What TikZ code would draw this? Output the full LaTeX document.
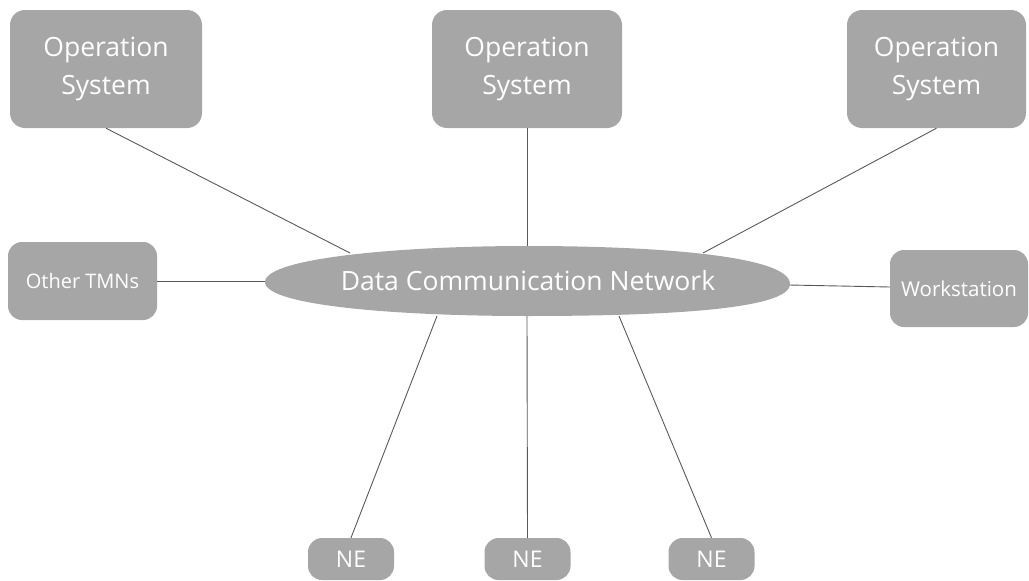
\documentclass[tikz,border=0pt]{standalone}
\usepackage{fontspec}
\setmainfont{Open Sans}
\definecolor{boxgrey}{HTML}{A6A6A6}
\definecolor{linegrey}{HTML}{595959}
\tikzset{
  unit/.style={x=1pt,y=-1pt},
  greybox/.style={draw=none,fill=boxgrey,rounded corners=15pt,text=white,
    inner sep=0pt,align=center},
  osbox/.style={greybox,minimum height=118pt,font=\fontsize{26.5}{38}\selectfont},
  nebox/.style={greybox,minimum width=86pt,minimum height=42pt,rounded corners=14pt,
    font=\fontsize{23}{28}\selectfont},
  link/.style={draw=linegrey,line width=0.9pt}
}
\begin{document}
\begin{tikzpicture}[unit]
\useasboundingbox (0,0) rectangle (1029,581);

% management systems along the top
\node[osbox,minimum width=192pt] (osL) at (106,69) {Operation\\System};
\node[osbox,minimum width=190pt] (osM) at (527,69) {Operation\\System};
\node[osbox,minimum width=179pt] (osR) at (936.5,69) {Operation\\System};

% side boxes
\node[greybox,minimum width=149pt,minimum height=78pt,rounded corners=14pt,
      font=\fontsize{20}{24}\selectfont] (tmn) at (82.5,281) {Other TMNs};
\node[greybox,minimum width=138pt,minimum height=77pt,rounded corners=14pt,
      font=\fontsize{20.5}{24}\selectfont] (ws) at (959,288.5) {Workstation};

% network elements
\node[nebox] (ne1) at (351,559) {NE};
\node[nebox] (ne2) at (527.5,559) {NE};
\node[nebox] (ne3) at (711.5,559) {NE};

% attachment points on the DCN outline
\coordinate (dOSL) at (350,253);
\coordinate (dOSM) at (527,246);
\coordinate (dOSR) at (703,253);
\coordinate (dTMN) at (266,281);
\coordinate (dWS) at (789,285);
\coordinate (dNE1) at (437,316);
\coordinate (dNE2) at (527,316);
\coordinate (dNE3) at (619,316);

% connectors
\draw[link] (osL.south) -- (dOSL);
\draw[link] (osM.south) -- (dOSM);
\draw[link] (osR.south) -- (dOSR);
\draw[link] (tmn.east) -- (dTMN);
\draw[link] (ws.west |- 0,287) -- (dWS);
\draw[link] (ne1.north) -- (dNE1);
\draw[link] (ne2.north) -- (dNE2);
\draw[link] (ne3.north) -- (dNE3);

% data communication network
\fill[boxgrey] (265,282)
  .. controls (265,258) and (400,246) .. (527,246)
  .. controls (660,246) and (790,256) .. (790,284)
  .. controls (790,310) and (660,316) .. (527,316)
  .. controls (400,316) and (265,306) .. cycle;
\node[text=white,font=\fontsize{26.5}{30}\selectfont,inner sep=0pt] (dcn) at (528,281)
  {Data Communication Network};
\end{tikzpicture}
\end{document}
